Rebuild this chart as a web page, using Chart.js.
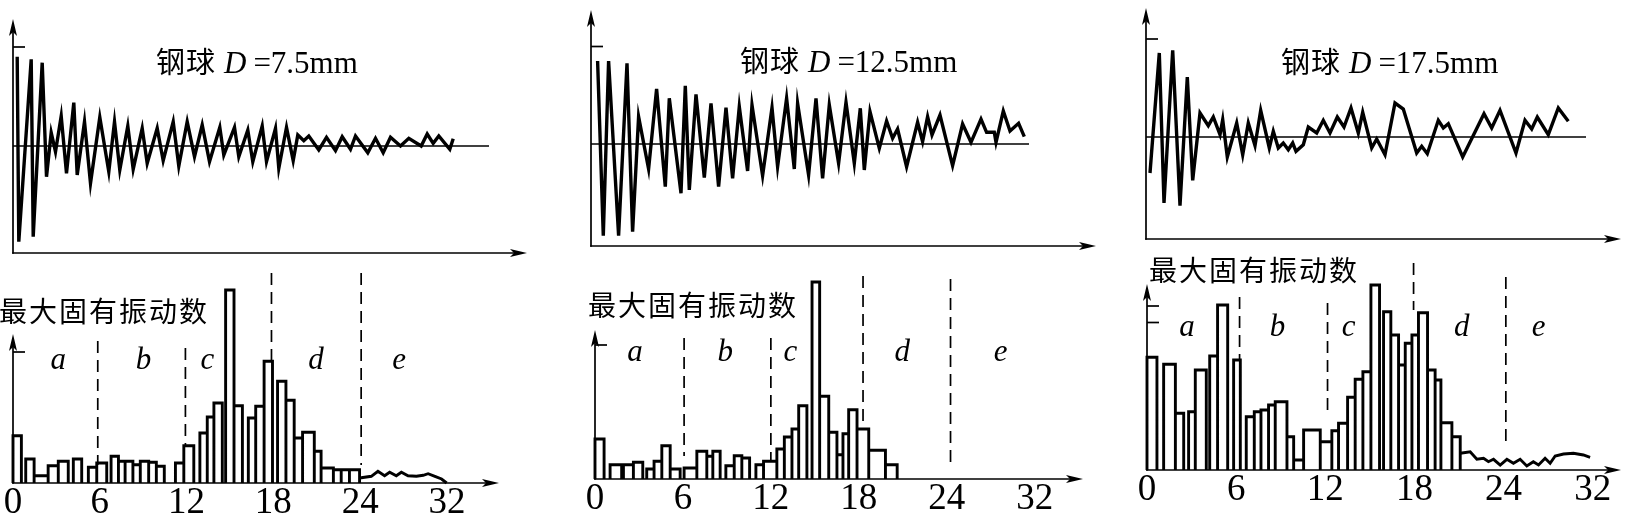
<!DOCTYPE html>
<html><head><meta charset="utf-8">
<script src="https://cdn.jsdelivr.net/npm/chart.js@4.4.1/dist/chart.umd.min.js"></script>
<style>
html,body{margin:0;padding:0;background:#fff;width:1627px;height:513px;overflow:hidden;position:relative}
.pn{position:absolute}
.pn canvas{display:block}
</style></head><body>
<div id="p1t" class="pn"><canvas></canvas></div>
<div id="p2t" class="pn"><canvas></canvas></div>
<div id="p3t" class="pn"><canvas></canvas></div>
<div id="p1b" class="pn"><canvas></canvas></div>
<div id="p2b" class="pn"><canvas></canvas></div>
<div id="p3b" class="pn"><canvas></canvas></div>
<script>
// ================= DATA =================
// Upper panels: vibration record (time, amplitude) for each ball diameter
const wave75Time = [4.2,5.8,18.2,20.2,29.2,33.5,38.2,42.5,48.2,53.5,60.8,64.2,71.5,77.5,86.8,95.8,101.5,106.8,114.8,120.2,129.2,134.2,144.2,150.2,160.2,165.8,174.2,181.5,189.2,196.5,206.8,210.8,221.5,225.8,234.8,239.8,249.2,253.5,262.5,265.8,273.5,280.2,284.8,290.8,295.8,305.8,313.5,322.5,329.2,337.5,342.5,354.8,362.5,370.2,377.5,387.5,395.8,408.2,414.2,420.2,425.8,436.8,440.2];
const wave75Amp  = [89.3,-95.7,86.7,-90.7,83.3,-30.7,13.3,-5.7,30,-27.3,43.3,-29,24.3,-37.3,28.7,-25.7,24.3,-24,20,-23.3,17.7,-17.3,17.7,-14.7,24.3,-20,24.3,-10.7,21,-15.7,18.7,-9,18.7,-10.7,16,-15.7,20,-15.7,17.7,-22.3,18.7,-14.7,11,5.3,10,-4,8.7,-4.7,9.3,-3.3,10,-6.7,7.7,-6.7,8.7,0,7.7,0,12,2.7,10,-3.3,7.3];

const wave125Time = [6.6,12.3,17.6,27.6,36,41.6,47.6,57.6,65.6,74.3,78.3,90,94.3,98.3,105,113.3,120,127.6,135,141.6,148.3,156.6,161,171.6,181,186.6,195.6,203.3,206.6,217.6,225,231.6,238.3,247.6,255,263.3,269.3,273.3,279,288.3,295.6,301.6,306.6,315.6,326.6,331.6,336.6,341,349,361.6,371.6,380,390,395.6,403.3,405,412.3,419,427.6,433.3];
const wave125Amp  = [83,-91.7,83,-91.7,80.7,-87.7,27.3,-25,55,-42.7,45.7,-49.3,58.3,-46,49.7,-33.7,40.7,-42.7,36.3,-34.3,37.3,-27,39,-31.7,36.3,-22.7,45.7,-25,40.7,-31,45.7,-34.3,39,-19.3,41.7,-19.3,35.7,-26,32.3,-4.3,23,5.7,15,-22.7,21.7,2.3,27.3,9,29,-21.7,20,1.7,25,11.7,11.7,1.7,33,13,20.7,7.3];

const wave175Time = [4,13.3,18,26.7,34,41.3,46.7,54,62.3,67.3,74,76.7,81.3,90.7,96.7,102.3,109,114.7,123.3,127.3,132.3,137.3,142.3,146.7,150,157.3,162.3,170.7,177.3,184,191.3,198,205,212.3,216.7,225.7,230.7,239,249,257.3,270.7,275.7,281.3,292.3,297.3,302.3,316.7,338,345.7,354,370,379,385.7,391.3,402.3,412.3,422.3];
const wave175Amp  = [-36,84,-66,86.7,-68.7,60,-43.3,24,11.3,20,2.3,17.3,-20,14,-17.7,14,-8.7,26.7,-11,5.7,-11,-6,-12.7,-6,-14.3,-7.7,10,4,16.7,4,20,10,29,4,24.7,-11,-2,-17.7,34,28,-16,-9.3,-16.7,16.7,9,13.3,-20,23.3,9,26.7,-16,16.7,8,20,2.3,29,15.7];

// Lower panels: histogram of maximum natural vibration number
const tickValues = [0, 6, 12, 18, 24, 30];
const tickLabels = ['0', '6', '12', '18', '24', '32'];
const regionNames = ['a', 'b', 'c', 'd', 'e'];

const hist75Start = [0,0.88,1.46,2.43,3.13,4.17,5.21,5.79,6.78,7.29,7.75,8.29,8.8,9.38,9.91,11.23,11.81,12.92,13.43,13.89,14.7,15.28,16.27,16.78,17.36,18.29,18.87,19.44,20.02,20.83,21.3,22.15,22.69,23.26];
const hist75End   = [0.58,1.46,2.43,3.13,3.82,4.75,5.79,6.48,7.29,7.75,8.29,8.8,9.38,9.91,10.46,11.81,12.5,13.43,13.89,14.47,15.28,15.86,16.78,17.36,17.94,18.87,19.44,20.02,20.83,21.3,22.15,22.69,23.26,23.96];
const hist75Count = [47.3,24,7.3,17.3,21.7,24,15.7,20,26.7,21.7,21.7,18.3,21.7,20.7,16.7,20,37.3,50,66,80,193,77.3,65,76.7,121.7,101.7,82.7,45,50.7,31.7,15,13.3,13.3,13.3];
const tail75X = [23.96,24.77,25.23,25.69,26.04,26.5,26.85,27.31,27.89,28.36,28.7,29.17,29.63,29.98];
const tail75Y = [5,6.7,11.7,7.3,10.7,7.3,10.7,7.3,6.7,7.7,9.3,6.7,4,0];
const bound75X = [5.86, 11.92, 17.87, 24.07];
const bound75Top = [142, 135, 210, 210];
const bound75Bottom = [18, 37, 121, 18];
const region75X = [3.12, 9.03, 13.43, 20.95, 26.7];

const hist125Start = [0,1.03,1.94,2.62,3.53,4.03,4.56,5.13,6.08,6.95,7.63,8.04,8.93,9.5,10.02,10.98,11.5,12.41,12.92,13.44,13.9,14.81,15.33,15.95,16.51,16.92,17.31,17.88,18.68,19.82];
const hist125End   = [0.62,1.82,2.62,3.26,4.03,4.56,5.13,5.81,6.95,7.63,8.04,8.54,9.5,10.02,10.55,11.5,12.41,12.92,13.44,13.9,14.46,15.33,15.95,16.51,16.92,17.31,17.88,18.68,19.82,20.62];
const hist125Count = [40,14.3,14.3,16.7,10,17.7,33.3,10,11,27.7,22.7,27.7,13.3,23.3,21,14.3,17.7,30,42,50,73.3,197,82.7,46.7,24.3,45.3,69.3,50,28.7,14.3];
const bound125X = [6.08, 12.0, 18.29, 24.26];
const bound125Top = [141, 141, 203, 200];
const bound125Bottom = [23, 18, 52, 16];
const region125X = [2.73, 8.88, 13.33, 20.96, 27.68];

const hist175Start = [0,1.12,1.91,2.8,3.25,4.22,4.75,5.83,6.68,7.22,7.67,8.18,8.63,9.42,9.87,10.54,11.66,12.44,12.89,13.5,14.01,14.53,15.07,15.92,16.41,16.93,17.38,17.83,18.27,18.88,19.39,19.78,20.52];
const hist175End   = [0.67,1.91,2.47,3.25,3.99,4.75,5.43,6.28,7.22,7.67,8.18,8.63,9.42,9.87,10.54,11.66,12.44,12.89,13.5,14.01,14.53,15.07,15.65,16.41,16.93,17.38,17.83,18.27,18.88,19.39,19.78,20.52,21.08];
const hist175Count = [112.7,105.7,56.7,58.3,100,114,165,110,53.3,58.3,60,65,68.3,33.3,10,40,28.3,39.3,46.7,72.7,90.7,98.3,185,158.3,135,105,126.7,135,157.3,100,90,47.3,33.3];
const tail175X = [21.08,21.75,22.2,22.65,22.98,23.32,23.77,24.22,24.66,25.11,25.56,26.0,26.35,26.79,27.13,27.47,28.03,28.7,29.37,29.82];
const tail175Y = [16.7,18.3,10.7,11.7,8.3,10.7,5,10.7,6.7,10.7,4,8.3,5,11.7,6.7,14,16,16.7,15,12.7];
const bound175X = [6.23, 12.15, 17.94, 24.15];
const bound175Top = [173, 167, 207, 193];
const bound175Bottom = [110, 58, 160, 28];
const region175X = [2.69, 8.79, 13.57, 21.19, 26.35];

const diameters = ['7.5mm', '12.5mm', '17.5mm'];
const yLabel = '最大固有振动数';
const titleWord = '钢球';

// ================= STYLE / LAYOUT =================
const SERIF = '"Liberation Serif", "Times New Roman", serif';
const CJK = '"Noto Sans CJK SC", "Noto Sans CJK JP", sans-serif';
const INK = '#000';

function arrow(ctx, x, y, dir) {
  const L = 17, W = 4, N = 4;
  ctx.beginPath();
  if (dir === 'up') { ctx.moveTo(x, y); ctx.lineTo(x - W, y + L); ctx.lineTo(x, y + L - N); ctx.lineTo(x + W, y + L); }
  else { ctx.moveTo(x, y); ctx.lineTo(x - L, y - W); ctx.lineTo(x - L + N, y); ctx.lineTo(x - L, y + W); }
  ctx.closePath(); ctx.fill();
}
function drawSegs(ctx, x, y, segs) {
  ctx.textBaseline = 'alphabetic'; ctx.textAlign = 'left';
  for (const s of segs) {
    ctx.font = s.font;
    const hasLS = ('letterSpacing' in ctx);
    if (hasLS) {
      ctx.letterSpacing = (s.ls || 0) + 'px';
      ctx.fillText(s.text, x, y);
      x += ctx.measureText(s.text).width;
      ctx.letterSpacing = '0px';
    } else {
      for (const ch of s.text) { ctx.fillText(ch, x, y); x += ctx.measureText(ch).width + (s.ls || 0); }
    }
    x += s.gap || 0;
  }
}
const deco = {
  id: 'deco',
  beforeDatasetsDraw(chart, args, o) {
    const ctx = chart.ctx, xs = chart.scales.x, ys = chart.scales.y, ca = chart.chartArea;
    ctx.save();
    ctx.strokeStyle = INK; ctx.fillStyle = INK; ctx.lineWidth = 1.7;
    const ox = xs.getPixelForValue(0), oy = ca.bottom;
    const yTopPx = o.yTop != null ? ys.getPixelForValue(o.yTop) : ca.top;
    ctx.beginPath(); ctx.moveTo(ox, oy + 0.8); ctx.lineTo(ox, yTopPx + 8); ctx.stroke();
    arrow(ctx, ox, yTopPx, 'up');
    ctx.beginPath(); ctx.moveTo(ox - 0.8, oy); ctx.lineTo(ca.right - 8, oy); ctx.stroke();
    arrow(ctx, ca.right, oy, 'right');
    (o.ticks || []).forEach(v => {
      const y = ys.getPixelForValue(v);
      ctx.beginPath(); ctx.moveTo(ox, y); ctx.lineTo(ox + 12, y); ctx.stroke();
    });
    ctx.restore();
  },
  afterDatasetsDraw(chart, args, o) {
    const ctx = chart.ctx, xs = chart.scales.x, ys = chart.scales.y;
    ctx.save(); ctx.fillStyle = INK;
    if (o.regions) {
      ctx.font = 'italic 31px ' + SERIF; ctx.textAlign = 'center'; ctx.textBaseline = 'middle';
      o.regions.names.forEach((n, i) => ctx.fillText(n, xs.getPixelForValue(o.regions.x[i]), ys.getPixelForValue(o.regions.level)));
    }
    (o.texts || []).forEach(t => drawSegs(ctx, t.x - o.left, t.y - o.top, t.segs));
    ctx.restore();
  }
};

function titleSegs(d) {
  return [
    {text: titleWord, font: '29px ' + CJK, ls: 1, gap: 8},
    {text: 'D', font: 'italic 31px ' + SERIF, gap: 7},
    {text: '=' + d, font: '31px ' + SERIF}
  ];
}
function labelSegs() { return [{text: yLabel, font: '28px ' + CJK, ls: 2}]; }

function setupCanvas(id, left, top, w, h) {
  const div = document.getElementById(id);
  div.style.left = left + 'px'; div.style.top = top + 'px';
  const cv = div.querySelector('canvas');
  cv.width = w; cv.height = h; cv.style.width = w + 'px'; cv.style.height = h + 'px';
  return cv;
}
const baseOpts = {
  responsive: false, animation: false, events: [],
  elements: { point: { radius: 0 }, line: { tension: 0, borderColor: INK, fill: false } }
};

function topPanel(p) {
  const pad = {left: 8, top: 2, right: 5, bottom: 8};
  const w = p.tipX - p.x0 + pad.left + pad.right, h = p.axisY - p.tipY + pad.top + pad.bottom;
  const left = p.x0 - pad.left, top = p.tipY - pad.top;
  const cv = setupCanvas(p.id, left, top, w, h);
  new Chart(cv, {
    type: 'line',
    data: { datasets: [
      { data: [{x: 0, y: 0}, {x: p.zeroEnd, y: 0}], borderWidth: 1.7, borderColor: INK, clip: false },
      { data: p.time.map((t, i) => ({x: t, y: p.amp[i]})), borderWidth: 3.4, borderColor: INK, borderJoinStyle: 'miter', clip: false }
    ]},
    options: Object.assign({}, baseOpts, {
      layout: { padding: pad },
      scales: {
        x: { type: 'linear', display: false, min: 0, max: p.tipX - p.x0 },
        y: { type: 'linear', display: false, min: p.zeroY - p.axisY, max: p.zeroY - p.tipY }
      },
      plugins: { legend: {display: false}, tooltip: {enabled: false},
        deco: { ticks: p.ticks, left, top, texts: [{x: p.titleX, y: p.titleY, segs: titleSegs(p.d)}] } }
    }),
    plugins: [deco]
  });
}

function barOutline(starts, ends, counts) {
  const pts = [];
  counts.forEach((c, i) => {
    pts.push({x: starts[i], y: 0}, {x: starts[i], y: c}, {x: ends[i], y: c}, {x: ends[i], y: 0}, {x: ends[i], y: null});
  });
  return pts;
}
function dashSegs(xs, tops, bottoms) {
  const pts = [];
  xs.forEach((x, i) => pts.push({x, y: tops[i]}, {x, y: bottoms[i]}, {x, y: null}));
  return pts;
}

function bottomPanel(p) {
  const padL = 22, padR = 6;
  const w = Math.round(padL + p.tipU * p.unit + padR), h = 513 - p.topY;
  const left = p.x0 - padL, top = p.topY;
  const cv = setupCanvas(p.id, left, top, w, h);
  const ds = [
    { data: barOutline(p.start, p.end, p.count), borderWidth: 2.9, borderColor: INK, borderJoinStyle: 'miter', spanGaps: false, clip: false },
    { data: dashSegs(p.boundX, p.boundTop, p.boundBottom), borderWidth: 1.7, borderColor: INK, borderDash: [12, 7], spanGaps: false, clip: false }
  ];
  if (p.tailX) ds.push({ data: p.tailX.map((x, i) => ({x, y: p.tailY[i]})), borderWidth: 2.9, borderColor: INK, clip: false });
  new Chart(cv, {
    type: 'line',
    data: { datasets: ds },
    options: Object.assign({}, baseOpts, {
      layout: { padding: {left: padL, right: padR, top: 0, bottom: 0} },
      scales: {
        x: { type: 'linear', display: true, min: 0, max: p.tipU,
             grid: {display: false, drawTicks: false}, border: {display: false},
             afterBuildTicks: s => { s.ticks = tickValues.map(v => ({value: v})); },
             afterFit: s => { s.height = 513 - p.baseY; },
             ticks: { autoSkip: false, maxRotation: 0, minRotation: 0, padding: 2, color: INK,
                      font: {family: SERIF, size: 37, lineHeight: 1},
                      callback: (v, i) => tickLabels[i] } },
        y: { type: 'linear', display: false, min: 0, max: p.baseY - p.topY }
      },
      plugins: { legend: {display: false}, tooltip: {enabled: false},
        deco: { yTop: p.yTop, ticks: p.ticks, left, top,
                regions: {names: regionNames, x: p.regionX, level: p.regionLevel},
                texts: [{x: p.labelX, y: p.labelY, segs: labelSegs()}] } }
    }),
    plugins: [deco]
  });
}

topPanel({id: 'p1t', x0: 13, zeroY: 146, axisY: 253, tipY: 19, tipX: 527, time: wave75Time, amp: wave75Amp, zeroEnd: 476, ticks: [99], d: diameters[0], titleX: 156, titleY: 73});
topPanel({id: 'p2t', x0: 591, zeroY: 144, axisY: 246, tipY: 10, tipX: 1096, time: wave125Time, amp: wave125Amp, zeroEnd: 438, ticks: [97.5], d: diameters[1], titleX: 740, titleY: 72});
topPanel({id: 'p3t', x0: 1146, zeroY: 137, axisY: 239, tipY: 8, tipX: 1621, time: wave175Time, amp: wave175Amp, zeroEnd: 440, ticks: [98], d: diameters[2], titleX: 1281, titleY: 73});

bottomPanel({id: 'p1b', x0: 13, baseY: 483, unit: 14.45, tipU: 33.6, topY: 265, yTop: 149, ticks: [131],
  start: hist75Start, end: hist75End, count: hist75Count, tailX: tail75X, tailY: tail75Y,
  boundX: bound75X, boundTop: bound75Top, boundBottom: bound75Bottom, regionX: region75X, regionLevel: 122, labelX: -1, labelY: 322});
bottomPanel({id: 'p2b', x0: 595, baseY: 479, unit: 14.64, tipU: 33.3, topY: 265, yTop: 149, ticks: [134],
  start: hist125Start, end: hist125End, count: hist125Count,
  boundX: bound125X, boundTop: bound125Top, boundBottom: bound125Bottom, regionX: region125X, regionLevel: 126, labelX: 588, labelY: 316});
bottomPanel({id: 'p3b', x0: 1147, baseY: 470, unit: 14.86, tipU: 31.9, topY: 250, yTop: 186, ticks: [164, 147.5],
  start: hist175Start, end: hist175End, count: hist175Count, tailX: tail175X, tailY: tail175Y,
  boundX: bound175X, boundTop: bound175Top, boundBottom: bound175Bottom, regionX: region175X, regionLevel: 142, labelX: 1149, labelY: 281});
</script>
</body></html>
